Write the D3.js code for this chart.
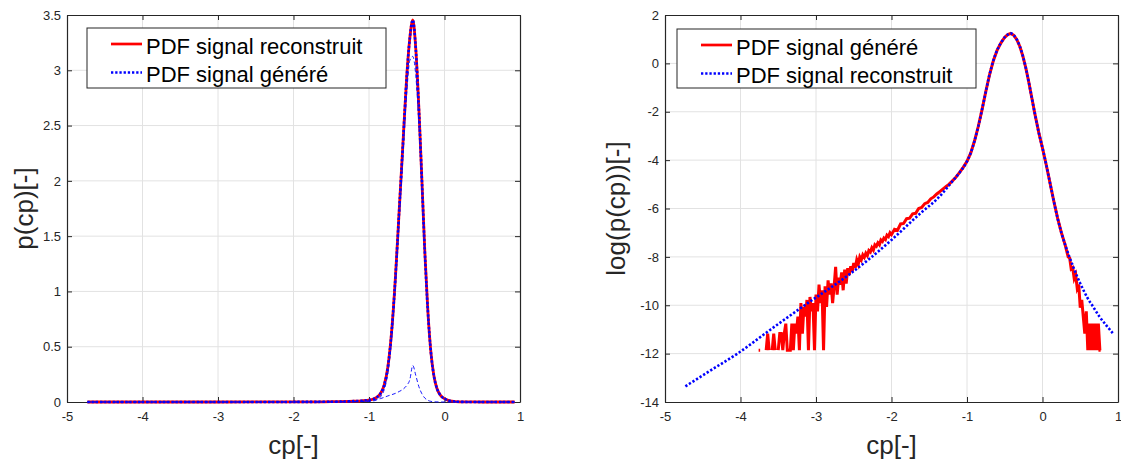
<!DOCTYPE html>
<html>
<head>
<meta charset="utf-8">
<script src="https://cdn.jsdelivr.net/npm/d3@7"></script>
<style>
body { margin: 0; background: #fff; }
svg { display: block; font-family: "Liberation Sans", Arial, Helvetica, sans-serif; }
.axis text { font-size: 13px; fill: #262626; font-family: "Liberation Sans", Arial, sans-serif; }
.axis .domain, .axis line { stroke: #262626; }
.axis-title { font-size: 26px; fill: #262626; }
.legend-text { font-size: 22px; fill: #000; }
</style>
</head>
<body>
<svg id="chart" width="1121" height="463"></svg>
<script>
// ticks
var cpTicks = [-5, -4, -3, -2, -1, 0, 1];
var pTicks = [0, 0.5, 1, 1.5, 2, 2.5, 3, 3.5];
var logTicks = [-14, -12, -10, -8, -6, -4, -2, 0, 2];

// left panel : p(cp)
var cpLin = [-4.73, -3.0, -2.0, -1.5, -1.2, -1.1, -1.0, -0.95, -0.9, -0.85, -0.8, -0.75, -0.7, -0.65, -0.6, -0.55, -0.5,
	-0.46, -0.42, -0.38, -0.34, -0.3, -0.26, -0.22, -0.18, -0.14, -0.1, -0.05, 0, 0.05, 0.1, 0.15, 0.2, 0.25, 0.3, 0.5, 0.93];
var pdfRecon = [0, 0.0001, 0.0007, 0.0025, 0.0076, 0.0111, 0.0174, 0.0247, 0.0408, 0.0743, 0.150, 0.317, 0.638, 1.127, 1.733, 2.34, 2.945,
	3.287, 3.455, 3.19, 2.664, 2.014, 1.35, 0.819, 0.449, 0.235, 0.122, 0.058, 0.03, 0.015, 0.0071, 0.0033, 0.0017, 0.0009, 0.0006, 0.0001, 0];
var pdfGen = pdfRecon; // the two curves sit on top of each other
var compMain = [0, 0.0001, 0.0006, 0.0005, 0.0036, 0.0041, 0.0054, 0.0087, 0.0188, 0.0443, 0.108, 0.262, 0.572, 1.049, 1.638, 2.225, 2.795,
	3.087, 3.125, 2.95, 2.524, 1.939, 1.315, 0.804, 0.443, 0.233, 0.121, 0.058, 0.03, 0.015, 0.0071, 0.0033, 0.0017, 0.0009, 0.0006, 0.0001, 0];
var compSmall = [0, 0, 0.001, 0.002, 0.004, 0.007, 0.012, 0.016, 0.022, 0.03, 0.042, 0.055, 0.066, 0.078, 0.095, 0.115, 0.15,
	0.2, 0.33, 0.24, 0.14, 0.075, 0.035, 0.015, 0.006, 0.002, 0.001, 0, 0, 0, 0, 0, 0, 0, 0, 0, 0];

// right panel : log(p(cp)), [cp, log] pairs
var logCore = [[-1.0, -4.05], [-0.95, -3.7], [-0.9, -3.2], [-0.85, -2.6], [-0.8, -1.9], [-0.75, -1.15], [-0.7, -0.45], [-0.65, 0.12],
	[-0.6, 0.55], [-0.55, 0.85], [-0.5, 1.08], [-0.46, 1.19], [-0.42, 1.24], [-0.38, 1.16], [-0.34, 0.98], [-0.3, 0.7], [-0.26, 0.3],
	[-0.22, -0.2], [-0.18, -0.8], [-0.14, -1.45], [-0.1, -2.1], [-0.05, -2.85], [0, -3.5], [0.05, -4.2], [0.1, -4.95], [0.15, -5.7],
	[0.2, -6.4], [0.25, -7.0], [0.3, -7.5]];
var genLeftTail = [[-3.76, -11.86], [-3.74, -11.86], [-3.72, null], [-3.70, null], [-3.68, null], [-3.66, -11.86], [-3.64, -11.17],
	[-3.62, -11.86], [-3.60, null], [-3.58, -11.86], [-3.56, -11.17], [-3.54, -11.86], [-3.52, null], [-3.50, -11.86], [-3.48, -11.17],
	[-3.46, -11.17], [-3.44, -11.86], [-3.42, -11.17], [-3.40, -10.76], [-3.38, -11.86], [-3.36, -11.86], [-3.34, -11.86], [-3.32, -10.76],
	[-3.30, -11.86], [-3.28, -10.76], [-3.26, -11.17], [-3.24, -10.47], [-3.22, -11.86], [-3.20, -9.91], [-3.18, -11.17], [-3.16, -10.07],
	[-3.14, -10.47], [-3.12, -9.78], [-3.10, -11.86], [-3.08, -9.66], [-3.06, -10.25], [-3.04, -9.91], [-3.02, -11.86], [-3.00, -9.56],
	[-2.98, -10.25], [-2.96, -9.15], [-2.94, -9.91], [-2.92, -9.38], [-2.90, -11.86], [-2.88, -9.22], [-2.86, -10.07], [-2.84, -8.97],
	[-2.82, -9.56], [-2.80, -9.09], [-2.78, -9.91], [-2.76, -9.22], [-2.74, -8.41], [-2.72, -9.56], [-2.70, -8.86], [-2.68, -9.15],
	[-2.66, -8.64], [-2.64, -9.38], [-2.62, -8.53], [-2.60, -9.1], [-2.58, -8.47], [-2.56, -8.75], [-2.54, -8.39], [-2.52, -8.6],
	[-2.50, -8.25], [-2.48, -8.45], [-2.46, -8.12], [-2.44, -8.3], [-2.42, -8.0], [-2.40, -8.12], [-2.38, -7.92], [-2.36, -8.02],
	[-2.34, -7.85], [-2.32, -7.95], [-2.30, -7.74], [-2.28, -7.8], [-2.26, -7.62], [-2.24, -7.72], [-2.22, -7.5], [-2.20, -7.56],
	[-2.18, -7.42], [-2.16, -7.5], [-2.14, -7.3], [-2.12, -7.36], [-2.10, -7.22], [-2.08, -7.28], [-2.06, -7.1], [-2.04, -7.16],
	[-2.02, -7.0], [-2.00, -7.08], [-1.96, -6.86], [-1.92, -6.9], [-1.88, -6.64], [-1.84, -6.62], [-1.80, -6.42], [-1.76, -6.4],
	[-1.72, -6.22], [-1.68, -6.2], [-1.64, -6.0], [-1.60, -5.96], [-1.56, -5.8], [-1.52, -5.75], [-1.48, -5.6], [-1.44, -5.52],
	[-1.40, -5.4], [-1.36, -5.3], [-1.32, -5.2], [-1.28, -5.1], [-1.24, -5.0], [-1.20, -4.88], [-1.15, -4.72], [-1.10, -4.52],
	[-1.05, -4.3]];
var genRightTail = [[0.32, -7.75], [0.34, -8.0], [0.36, -8.05], [0.38, -8.5], [0.40, -8.45], [0.42, -8.9], [0.44, -8.75], [0.46, -9.3],
	[0.48, -9.15], [0.50, -10.1], [0.52, -9.78], [0.54, -10.47], [0.56, -11.17], [0.58, -10.25], [0.60, -11.86], [0.62, -10.76],
	[0.64, -11.86], [0.66, -10.76], [0.68, -11.86], [0.70, -10.76], [0.72, -11.86], [0.74, -10.76], [0.76, -11.86], [0.77, -11.86]];
var recLeftTail = [[-4.73, -13.35], [-4.4, -12.7], [-4.04, -12.0], [-3.6, -11.0], [-3.15, -10.0], [-2.6, -8.82], [-2.3, -8.1],
	[-2.0, -7.3], [-1.6, -6.15], [-1.4, -5.62], [-1.2, -4.9], [-1.1, -4.52]];
var recRightTail = [[0.35, -7.95], [0.4, -8.35], [0.45, -8.75], [0.5, -9.1], [0.55, -9.42], [0.6, -9.72], [0.67, -10.06],
	[0.75, -10.45], [0.85, -10.85], [0.93, -11.15]];

var plotTop = 15, plotBottom = 402;
var svg = d3.select("#chart");

drawLeft();
drawRight();

function makeFrame(left, right, yDomain, yTicks) {
	var x = d3.scaleLinear().domain([-5, 1]).range([left, right]);
	var y = d3.scaleLinear().domain(yDomain).range([plotBottom, plotTop]);
	var g = svg.append("g");

	g.selectAll("line.gx").data(cpTicks.slice(1, -1)).enter().append("line")
		.attr("x1", function(d) { return x(d); }).attr("x2", function(d) { return x(d); })
		.attr("y1", plotTop).attr("y2", plotBottom).attr("stroke", "#e2e2e2");
	g.selectAll("line.gy").data(yTicks.slice(1, -1)).enter().append("line")
		.attr("y1", function(d) { return y(d); }).attr("y2", function(d) { return y(d); })
		.attr("x1", left).attr("x2", right).attr("stroke", "#e2e2e2");

	var fmt = function(d) { return String(d); };
	g.append("g").attr("class", "axis").attr("transform", "translate(0," + plotBottom + ")")
		.call(d3.axisBottom(x).tickValues(cpTicks).tickFormat(fmt).tickSize(-5).tickSizeOuter(0).tickPadding(10));
	g.append("g").attr("class", "axis").attr("transform", "translate(0," + plotTop + ")")
		.call(d3.axisTop(x).tickValues(cpTicks).tickFormat("").tickSize(-5).tickSizeOuter(0));
	g.append("g").attr("class", "axis").attr("transform", "translate(" + left + ",0)")
		.call(d3.axisLeft(y).tickValues(yTicks).tickFormat(fmt).tickSize(-5).tickSizeOuter(0).tickPadding(6));
	g.append("g").attr("class", "axis").attr("transform", "translate(" + right + ",0)")
		.call(d3.axisRight(y).tickValues(yTicks).tickFormat("").tickSize(-5).tickSizeOuter(0));
	g.selectAll(".axis").attr("font-family", null).attr("font-size", null);
	g.selectAll(".axis .domain").attr("stroke-width", 1.2);

	return { x: x, y: y, left: left, right: right };
}

function axisTitles(f, yTitle, yTitleX) {
	svg.append("text").attr("class", "axis-title").attr("text-anchor", "middle")
		.attr("x", (f.left + f.right) / 2).attr("y", 454).text("cp[-]");
	svg.append("text").attr("class", "axis-title").attr("text-anchor", "middle")
		.attr("transform", "translate(" + yTitleX + "," + (plotTop + plotBottom) / 2 + ") rotate(-90)")
		.text(yTitle);
}

function drawPath(data, f, stroke, width, dash, curve) {
	var line = d3.line()
		.defined(function(d) { return d[1] !== null; })
		.x(function(d) { return f.x(d[0]); })
		.y(function(d) { return f.y(d[1]); })
		.curve(curve || d3.curveLinear);
	svg.append("path").datum(data)
		.attr("d", line)
		.attr("fill", "none")
		.attr("stroke", stroke)
		.attr("stroke-width", width)
		.attr("stroke-dasharray", dash);
}

function zip(xs, ys) {
	return xs.map(function(v, i) { return [v, ys[i]]; });
}

function drawLegend(x0, y0, w, h, items) {
	svg.append("rect").attr("x", x0).attr("y", y0).attr("width", w).attr("height", h)
		.attr("fill", "#fff").attr("stroke", "#262626").attr("stroke-width", 1);
	items.forEach(function(it, i) {
		var ly = y0 + 16 + i * 28.5;
		svg.append("line").attr("x1", x0 + 24).attr("x2", x0 + 55).attr("y1", ly).attr("y2", ly)
			.attr("stroke", it.color).attr("stroke-width", 2.7).attr("stroke-dasharray", it.dash);
		svg.append("text").attr("class", "legend-text").attr("x", x0 + 59).attr("y", ly + 9.5).text(it.label);
	});
}

function drawLeft() {
	var f = makeFrame(67, 520, [0, 3.5], pTicks);
	drawPath(zip(cpLin, pdfRecon), f, "#ff0000", 2.8, null, d3.curveMonotoneX);
	drawPath(zip(cpLin, pdfGen), f, "#0000ff", 2.6, "2.3,1.9", d3.curveMonotoneX);
	drawPath(zip(cpLin, compMain), f, "#0000ff", 0.9, "4,2.5", d3.curveMonotoneX);
	drawPath(zip(cpLin, compSmall), f, "#0000ff", 0.9, "4,2.5", d3.curveMonotoneX);
	axisTitles(f, "p(cp)[-]", 33);
	drawLegend(87, 28, 299, 60, [
		{ label: "PDF signal reconstruit", color: "#ff0000", dash: null },
		{ label: "PDF signal généré", color: "#0000ff", dash: "2.3,1.9" }
	]);
}

function drawRight() {
	var f = makeFrame(665, 1118, [-14, 2], logTicks);
	var gen = genLeftTail.concat(logCore, genRightTail);
	var rec = recLeftTail.concat(logCore, recRightTail);
	drawPath(gen, f, "#ff0000", 3, null, d3.curveLinear);
	drawPath(rec, f, "#0000ff", 2.6, "2.3,1.9", d3.curveMonotoneX);
	axisTitles(f, "log(p(cp))[-]", 625);
	drawLegend(677, 29, 299, 59, [
		{ label: "PDF signal généré", color: "#ff0000", dash: null },
		{ label: "PDF signal reconstruit", color: "#0000ff", dash: "2.3,1.9" }
	]);
}
</script>
</body>
</html>
